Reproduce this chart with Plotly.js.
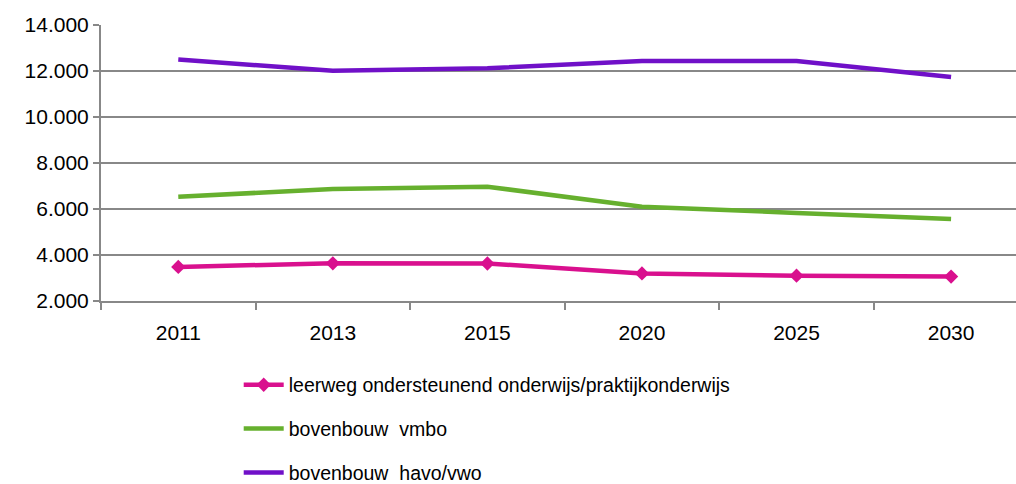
<!DOCTYPE html>
<html>
<head>
<meta charset="utf-8">
<script src="https://cdn.plot.ly/plotly-3.0.1.min.js"></script>
<style>html,body{margin:0;padding:0;background:#fff;}#chart{width:1016px;height:484px;}</style>
</head>
<body>
<div id="chart"></div>
<script>
var years = ["2011", "2013", "2015", "2020", "2025", "2030"];
var leerwegValues = [3480, 3640, 3630, 3200, 3100, 3060];
var vmboValues = [6530, 6870, 6970, 6100, 5830, 5570];
var havoVwoValues = [12500, 12010, 12120, 12430, 12430, 11740];
var seriesNames = ["leerweg ondersteunend onderwijs/praktijkonderwijs", "bovenbouw  vmbo", "bovenbouw  havo/vwo"];
var yTicks = [2000, 4000, 6000, 8000, 10000, 12000, 14000];

var fontFam = "Liberation Sans, Arial, sans-serif";
var traces = [
  {x: years, y: leerwegValues, name: seriesNames[0], type: "scatter", mode: "lines+markers",
   line: {color: "#D9108E", width: 4.5}, marker: {symbol: "diamond", size: 11, color: "#D9108E"}, legendgroup: "a"},
  {x: years, y: vmboValues, name: seriesNames[1], type: "scatter", mode: "lines",
   line: {color: "#66B02E", width: 4.5}, legendgroup: "b"},
  {x: years, y: havoVwoValues, name: seriesNames[2], type: "scatter", mode: "lines",
   line: {color: "#7010C8", width: 4.5}, legendgroup: "c"}
];
var layout = {
  width: 1016, height: 484,
  margin: {l: 101, r: 0, t: 25, b: 183, autoexpand: false},
  paper_bgcolor: "#fff", plot_bgcolor: "#fff",
  separators: ",.",
  font: {family: fontFam, size: 19.5, color: "#000"},
  showlegend: true,
  legend: {x: 0.1505, xanchor: "left", y: -0.234, yanchor: "top", orientation: "v",
           traceorder: "grouped", tracegroupgap: 15.5, font: {size: 19.5, family: fontFam}, itemwidth: 40},
  xaxis: {type: "category", range: [-0.5, 5.42], showgrid: false, showline: true, linecolor: "#888", linewidth: 2,
          ticks: "outside", tickson: "boundaries", ticklen: 7, tickwidth: 2, tickcolor: "#888", ticklabelstandoff: 12,
          tickfont: {size: 21, family: fontFam}, zeroline: false, fixedrange: true},
  yaxis: {range: [2000, 14000], tickvals: yTicks, tickformat: ",d", showgrid: true, gridcolor: "#888", gridwidth: 2,
          showline: true, linecolor: "#888", linewidth: 2, ticks: "outside", ticklen: 6, tickwidth: 2, tickcolor: "#888",
          tickfont: {size: 21, family: fontFam}, zeroline: false, fixedrange: true}
};
Plotly.newPlot("chart", traces, layout, {displayModeBar: false, staticPlot: true});
</script>
</body>
</html>
